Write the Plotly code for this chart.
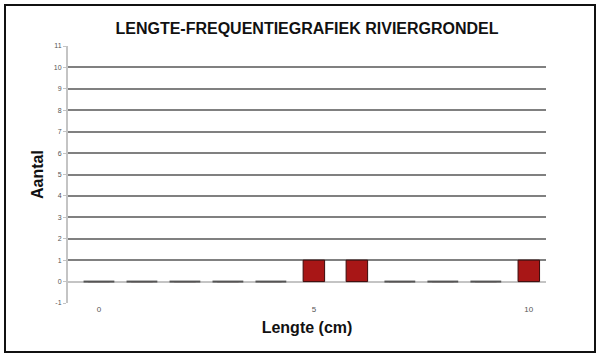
import plotly.graph_objects as go

lengths = [0, 1, 2, 3, 4, 5, 6, 7, 8, 9, 10]
counts = [0, 0, 0, 0, 0, 1, 1, 0, 0, 0, 1]
x_ticks = [0, 5, 10]
y_ticks = list(range(-1, 12))

title = "LENGTE-FREQUENTIEGRAFIEK RIVIERGRONDEL"
x_title = "Lengte (cm)"
y_title = "Aantal"

W, H = 599, 356
ml, mr, mt, mb = 68, 53, 46, 53

fig = go.Figure()
fig.add_trace(go.Bar(
    x=lengths, y=counts, width=0.5,
    marker=dict(color="#a81616", line=dict(color="#3a0a0a", width=1)),
    showlegend=False, hoverinfo="skip",
))
zx = [l for l, c in zip(lengths, counts) if c == 0]
zy = [c for c in counts if c == 0]
fig.add_trace(go.Scatter(
    x=zx, y=zy, mode="markers",
    marker=dict(symbol="line-ew", size=22, line=dict(color="#555555", width=2)),
    showlegend=False, hoverinfo="skip", cliponaxis=False,
))

pw = W - ml - mr
ph = H - mt - mb
def px2paper_x(px):
    return (px - ml) / pw
def px2paper_y(py):
    return (H - mb - py) / ph

fig.add_shape(type="rect", xref="paper", yref="paper",
              x0=px2paper_x(5), x1=px2paper_x(595),
              y0=px2paper_y(352), y1=px2paper_y(5),
              line=dict(color="#111111", width=2), layer="above")

fig.update_layout(
    width=W, height=H,
    margin=dict(l=ml, r=mr, t=mt, b=mb, autoexpand=False),
    paper_bgcolor="white", plot_bgcolor="white",
    font=dict(family="Liberation Sans, Arial, sans-serif", color="#222222"),
    title=dict(text="<b>" + title + "</b>", x=0.5, xanchor="center",
               xref="paper",
               y=1 - 28 / H, yanchor="middle",
               font=dict(size=16, color="#111111")),
    bargap=0.5,
)
fig.update_xaxes(
    range=[-0.72, 10.4], tickvals=x_ticks, ticktext=[str(v) for v in x_ticks],
    showgrid=False, zeroline=False, showline=False, ticks="",
    tickfont=dict(size=8, color="#555555"), automargin=False,
    title=dict(text="<b>" + x_title + "</b>", font=dict(size=16, color="#111111"), standoff=8),
)
fig.update_yaxes(
    range=[-1, 11], tickvals=y_ticks, ticktext=[str(v) for v in y_ticks],
    showgrid=True, gridcolor="#808080", gridwidth=1.5,
    zeroline=True, zerolinecolor="#c4c4c4", zerolinewidth=2,
    showline=True, linecolor="#c4c4c4", linewidth=2,
    ticks="outside", ticklen=3, tickcolor="#c4c4c4",
    tickfont=dict(size=7, color="#555555"), automargin=False,
    title=dict(text="<b>" + y_title + "</b>", font=dict(size=16, color="#111111"), standoff=6),
)

fig.write_html("out.html", config={"displayModeBar": False},
               post_script="document.body.style.margin='0';")
